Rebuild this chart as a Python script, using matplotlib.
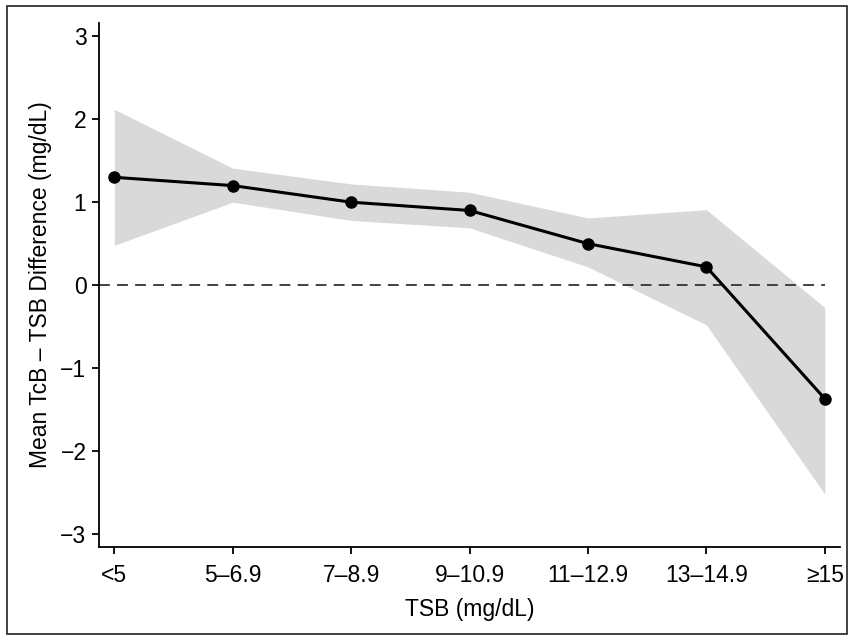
import matplotlib.pyplot as plt
from matplotlib.patches import Rectangle

# Data
categories = ["<5", "5–6.9", "7–8.9", "9–10.9", "11–12.9", "13–14.9", "≥15"]
mean_diff = [1.3, 1.2, 1.0, 0.9, 0.5, 0.22, -1.37]
upper_ci = [2.12, 1.41, 1.22, 1.12, 0.81, 0.91, -0.27]
lower_ci = [0.48, 1.0, 0.78, 0.69, 0.22, -0.48, -2.52]

plt.rcParams['font.family'] = ['Liberation Sans', 'DejaVu Sans']

fig = plt.figure(figsize=(8.53, 6.4), dpi=100)
ax = fig.add_axes([0.116, 0.145, 0.869, 0.819])

x = list(range(len(categories)))

# CI band
ax.fill_between(x, lower_ci, upper_ci, color="#d9d9d9", linewidth=0, zorder=1)

# zero reference
ax.hlines(0, -0.13, x[-1], colors="#333333", linestyles=(0, (6, 4)), linewidth=1.3, zorder=2)

# mean line
ax.plot(x, mean_diff, color="black", linewidth=2.2, marker="o", markersize=8, zorder=3)

ax.set_xlim(-0.13, 6.13)
ax.set_ylim(-3.16, 3.16)
ax.set_yticks([-3, -2, -1, 0, 1, 2, 3])
ax.set_yticklabels(["−3", "−2", "−1", "0", "1", "2", "3"])
ax.set_xticks(x)
ax.set_xticklabels(categories)

ax.spines['top'].set_visible(False)
ax.spines['right'].set_visible(False)
ax.spines['left'].set_linewidth(1.3)
ax.spines['bottom'].set_linewidth(1.3)
ax.tick_params(axis='both', direction='out', length=5, width=1.3, labelsize=16.5, pad=4)
ax.tick_params(axis='x', pad=7)

ax.set_xlabel("TSB (mg/dL)", fontsize=16.5, labelpad=8)
ax.set_ylabel("Mean TcB – TSB Difference (mg/dL)", fontsize=16.5, labelpad=6)

# frame round the whole figure
fig.patches.append(Rectangle((0.008, 0.01), 0.985, 0.98, transform=fig.transFigure,
                             fill=False, edgecolor="#222222", linewidth=1.2))

fig.savefig("out.png", dpi=100)
